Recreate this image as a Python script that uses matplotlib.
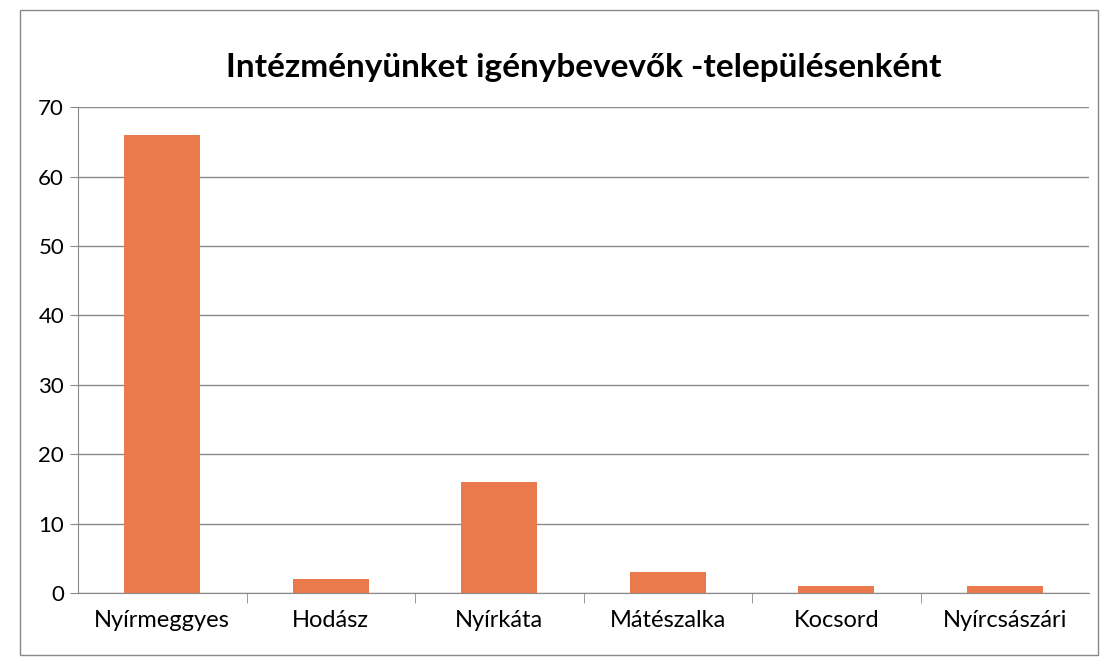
import matplotlib.pyplot as plt
from matplotlib.patches import Rectangle

telepulesek = ['Nyírmeggyes', 'Hodász', 'Nyírkáta', 'Mátészalka', 'Kocsord', 'Nyírcsászári']
igenybevevok = [66, 2, 16, 3, 1, 1]
y_ticks = [0, 10, 20, 30, 40, 50, 60, 70]

plt.rcParams['font.family'] = ['Lato', 'DejaVu Sans']

fig = plt.figure(figsize=(11.05, 6.65), dpi=100)
ax = fig.add_axes([0.0706, 0.108, 0.915, 0.731])

x = list(range(len(telepulesek)))
ax.bar(x, igenybevevok, width=0.45, color='#EA7A4C', zorder=3)

ax.set_xlim(-0.5, len(telepulesek) - 0.5)
ax.set_ylim(0, 70)
ax.set_yticks(y_ticks)
ax.tick_params(axis='y', labelsize=16, length=6, color='#888888', pad=4)
ax.yaxis.grid(True, color='#8a8a8a', linewidth=1.0, zorder=0)

# kategória feliratok, osztóvonalak a kategóriák között
ax.set_xticks(x)
ax.set_xticklabels(telepulesek, fontsize=17)
ax.tick_params(axis='x', length=0, pad=12)
ax.set_xticks([i + 0.5 for i in x[:-1]], minor=True)
ax.tick_params(axis='x', which='minor', length=7, color='#888888')

for side in ['top', 'right']:
    ax.spines[side].set_visible(False)
ax.spines['left'].set_color('#888888')
ax.spines['bottom'].set_color('#888888')

ax.set_title('Intézményünket igénybevevők -településenként', fontsize=24,
             fontweight='bold', pad=22)

fig.patches.append(Rectangle((0.018, 0.015), 0.976, 0.97, transform=fig.transFigure,
                             fill=False, edgecolor='#888888', linewidth=1.0))

fig.savefig('out.png', dpi=100)
